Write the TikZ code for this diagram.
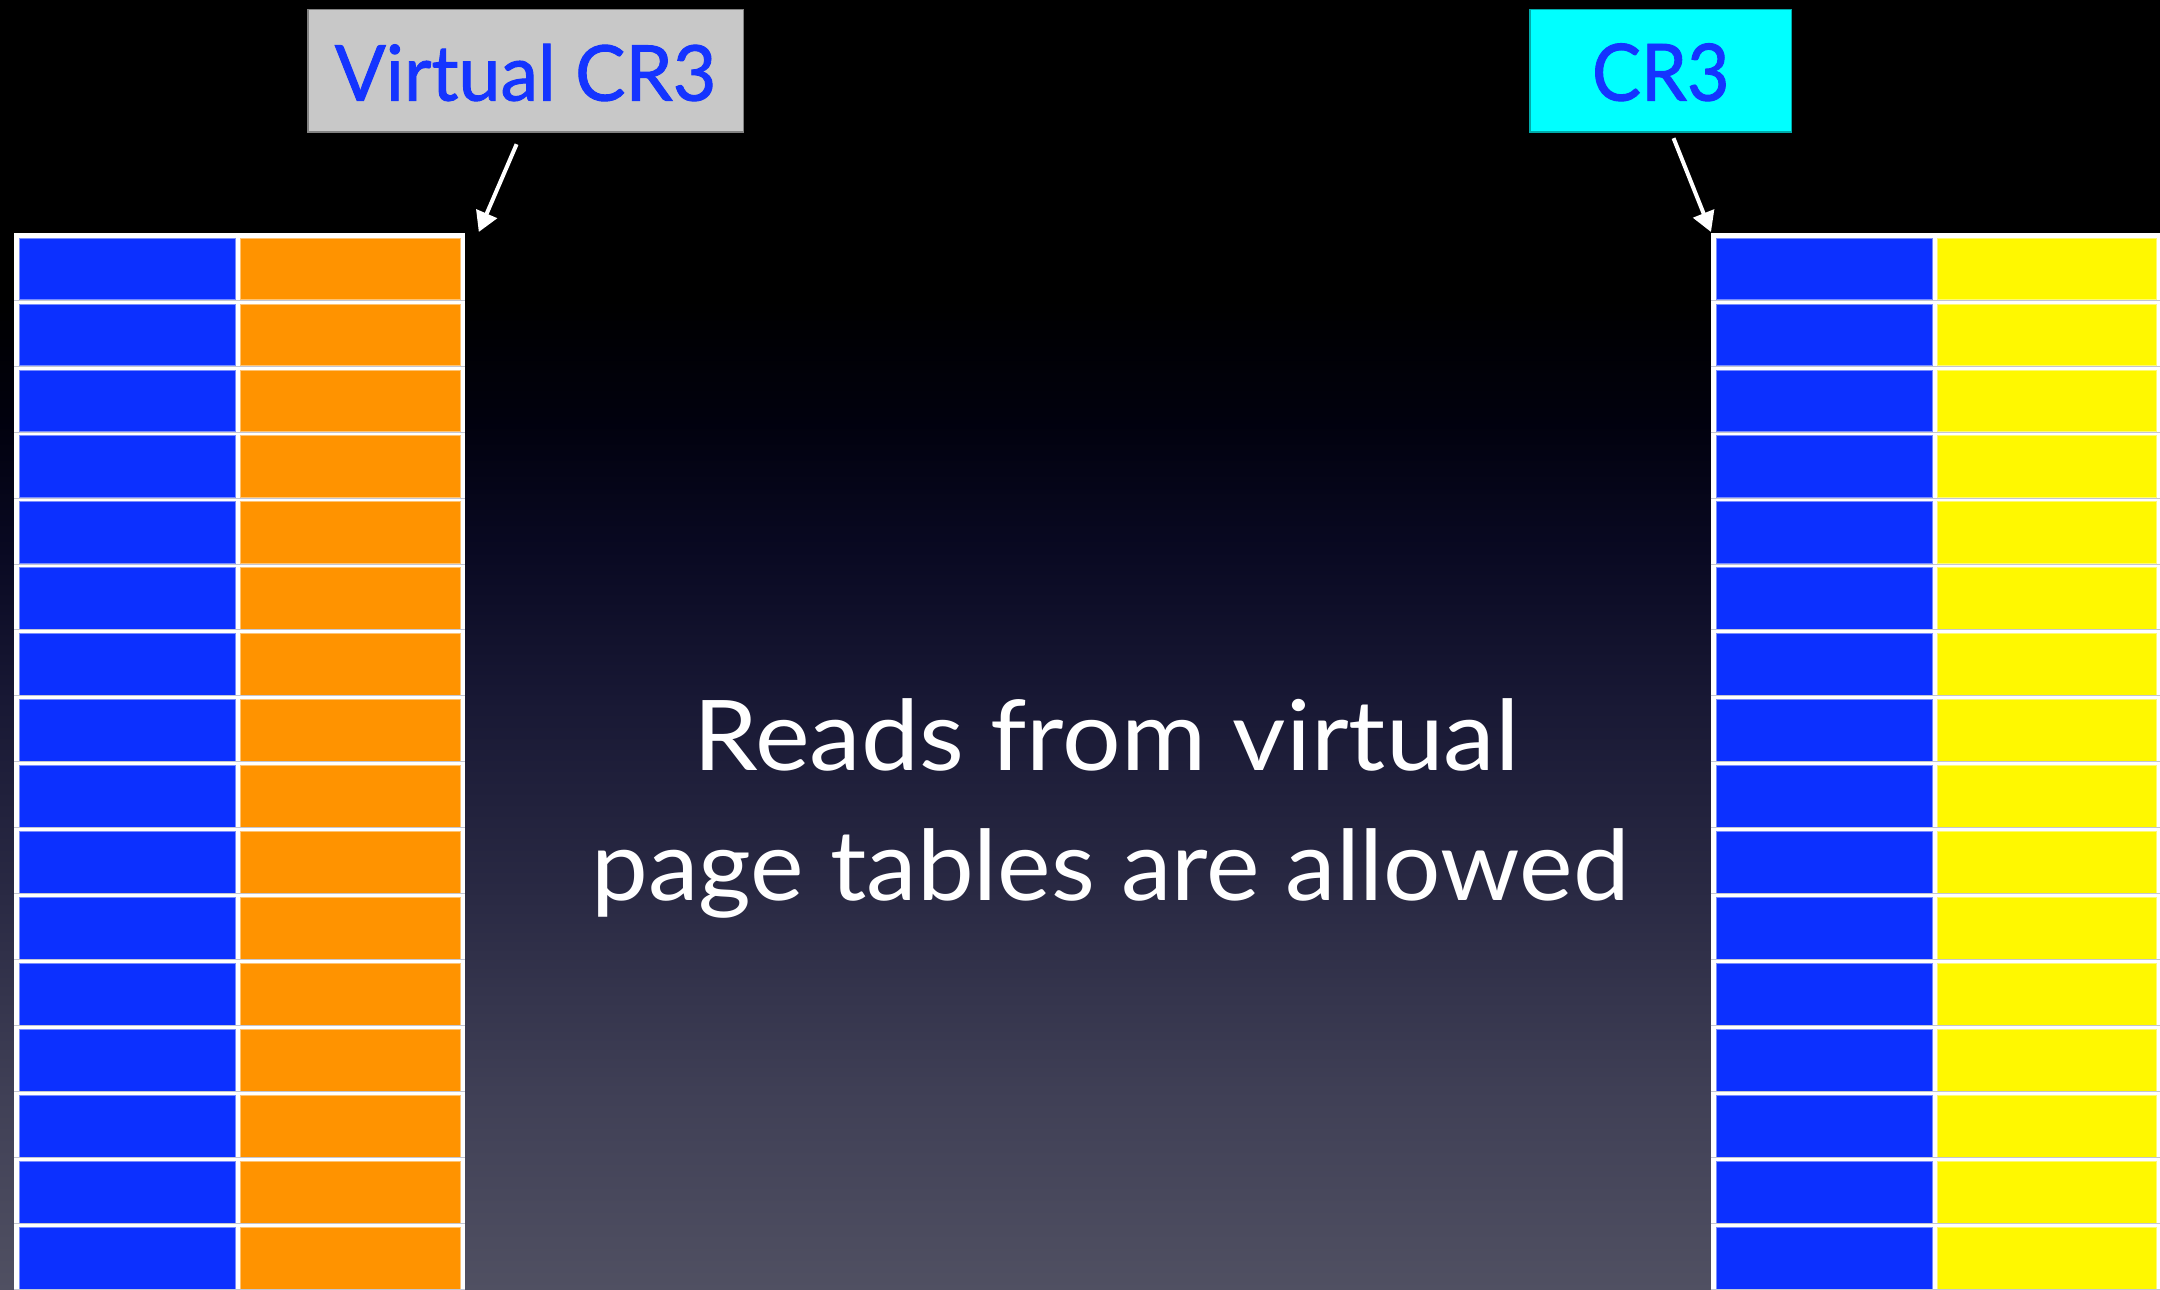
\documentclass[tikz,border=0pt]{standalone}
\usepackage{fontspec}
\setmainfont{Lato}
\newfontfamily\regfont[FakeBold=1.2]{Lato}
\usepackage{graphicx}
\usetikzlibrary{arrows.meta,calc}

% palette
\definecolor{cellblue}{RGB}{12,48,255}
\definecolor{cellorange}{RGB}{255,147,0}
\definecolor{cellyellow}{RGB}{255,248,0}
\definecolor{rowrule}{RGB}{196,198,210}
\definecolor{labelblue}{RGB}{20,52,255}
\definecolor{labelgray}{RGB}{200,200,200}
\definecolor{labelgrayedge}{RGB}{130,130,130}
\definecolor{labelcyan}{RGB}{0,255,255}
\definecolor{labelcyanedge}{RGB}{0,170,170}
\definecolor{bgA}{RGB}{80,80,98}
\definecolor{bgB}{RGB}{64,64,86}
\definecolor{bgC}{RGB}{42,42,68}
\definecolor{bgD}{RGB}{24,24,52}
\definecolor{bgE}{RGB}{9,9,34}
\definecolor{bgF}{RGB}{1,1,14}

% slide background: black at the top, fading to slate grey at the bottom
% (the path's box spans 25bp..75bp of the shading)
\pgfdeclareverticalshading{slidebg}{100bp}{%
  color(0bp)=(bgA); color(25bp)=(bgA); color(32.4bp)=(bgB);
  color(40.1bp)=(bgC); color(47.9bp)=(bgD); color(53.7bp)=(bgE);
  color(58.7bp)=(bgF); color(63.4bp)=(black); color(100bp)=(black)}

\tikzset{
  crbox/.style={rectangle, inner sep=0pt, line width=0.6pt, text=labelblue,
    anchor=north west},
  tabframe/.style={rectangle, fill=white, draw=none, inner sep=0pt,
    anchor=north west},
  cellfill/.style={fill=#1, draw=#1!55!white, line width=0.4pt},
  rowline/.style={draw=rowrule, line width=0.5pt},
  pointer/.style={draw=white, line width=2pt,
    -{Triangle[length=10pt,width=11pt]}},
  bigtext/.style={anchor=base, inner sep=0pt, text=white,
    font=\fontsize{48.8}{58}\selectfont},
}

\begin{document}
\begin{tikzpicture}[x=0.5pt,y=-0.5pt]
\useasboundingbox (0,0) rectangle (2160,1290);
\clip (0,0) rectangle (2160,1290);
\fill[shading=slidebg] (0,0) rectangle (2160,1290);

% register labels
\node[crbox, fill=labelgray, draw=labelgrayedge, minimum width=217.7pt,
      text height=45.5pt, text depth=15.65pt,
      font=\regfont\fontsize{38.5}{46}\selectfont] (vcr3) at (307.3,9)
      {\resizebox{190.8pt}{\height}{Virtual CR3}};
\node[crbox, fill=labelcyan, draw=labelcyanedge, minimum width=130.85pt,
      text height=45.5pt, text depth=15.65pt,
      font=\regfont\fontsize{39.5}{46}\selectfont] (cr3) at (1529.3,9)
      {\resizebox{68.8pt}{\height}{CR3}};

% page-table frames
\node[tabframe, minimum width=225.5pt, minimum height=540pt] (ltab) at (14,233) {};
\node[tabframe, minimum width=229.65pt, minimum height=540pt] (rtab) at (1710.7,233) {};

% table entries
\foreach \i in {0,...,16}{
  \pgfmathsetmacro\t{238+65.95*\i}
  \fill[cellfill=cellblue]   (19.3,\t)   rectangle (235.7,\t+61.7);
  \fill[cellfill=cellorange] (240.7,\t)  rectangle (460,\t+61.7);
  \draw[rowline] (14,\t+62.2) -- (465,\t+62.2);
  \fill[cellfill=cellblue]   (1716,\t)   rectangle (1932.3,\t+61.7);
  \fill[cellfill=cellyellow] (1937.7,\t) rectangle (2156,\t+61.7);
  \draw[rowline] (1710.7,\t+62.2) -- (2160,\t+62.2);
}

% pointers from the registers to their tables
\draw[pointer] ($(vcr3.south)+(-9,11.7)$) -- ($(ltab.north east)+(13,-1)$);
\draw[pointer] ($(cr3.south)+(12.8,5.7)$) -- ($(rtab.north west)+(0.3,-1)$);

% message
\node[bigtext] (msg1) at (1106.5,770) {\resizebox{413pt}{\height}{Reads from virtual}};
\node[bigtext] (msg2) at (1110.7,900.7) {\resizebox{519pt}{\height}{page tables are allowed}};
\end{tikzpicture}
\end{document}
